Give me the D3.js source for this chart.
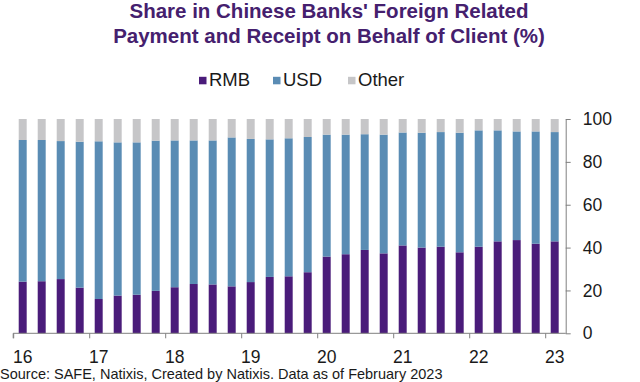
<!DOCTYPE html>
<html>
<head>
<meta charset="utf-8">
<script src="https://cdn.jsdelivr.net/npm/d3@7"></script>
<style>
  html, body { margin: 0; padding: 0; background: #ffffff; }
  svg { display: block; font-family: "Liberation Sans", Arial, sans-serif; }
</style>
</head>
<body>
<svg id="chart" width="640" height="382"></svg>
<script>
// ---- data ----
const quarters = [
  "2016Q1","2016Q2","2016Q3","2016Q4",
  "2017Q1","2017Q2","2017Q3","2017Q4",
  "2018Q1","2018Q2","2018Q3","2018Q4",
  "2019Q1","2019Q2","2019Q3","2019Q4",
  "2020Q1","2020Q2","2020Q3","2020Q4",
  "2021Q1","2021Q2","2021Q3","2021Q4",
  "2022Q1","2022Q2","2022Q3","2022Q4",
  "2023Q1"
];
const rmb = [24.1,24.3,25.3,21.3,16.0,17.6,18.0,19.8,21.5,23.0,22.8,21.9,23.9,26.3,26.6,28.5,35.8,36.9,38.9,37.3,41.0,40.0,40.4,37.8,40.4,42.9,43.5,41.8,42.9];
const usd = [66.1,65.9,64.4,68.1,73.6,71.5,71.1,70.1,68.5,67.0,67.2,69.5,66.8,64.2,64.4,63.1,56.9,55.8,54.0,55.4,52.7,53.6,53.5,55.8,54.3,51.8,50.7,52.4,51.0];
const other = [9.8,9.8,10.3,10.6,10.4,10.9,10.9,10.1,10.0,10.0,10.0,8.6,9.3,9.5,9.0,8.4,7.3,7.3,7.1,7.3,6.3,6.4,6.1,6.4,5.3,5.3,5.8,5.8,6.1];
const seriesNames = ["RMB","USD","Other"];
const yTicks = [0,20,40,60,80,100];
const yearLabels = ["16","17","18","19","20","21","22","23"];
const titleLines = ["Share in Chinese Banks' Foreign Related", "Payment and Receipt on Behalf of Client (%)"];
const sourceText = "Source: SAFE, Natixis, Created by Natixis. Data as of February 2023";

// ---- styles ----
const colors = { RMB: "#4a1c7a", USD: "#5a8cb4", Other: "#c6c6c8" };
const axisColor = "#808080";
const textColor = "#1a1a1a";
const titleColor = "#45206e";

const svg = d3.select("#chart");

const rows = quarters.map((q, i) => ({ q, RMB: rmb[i], USD: usd[i], Other: other[i] }));
const stacked = d3.stack().keys(seriesNames)(rows);

const plotLeft = 13.2, plotRight = 565.7, plotTop = 119, plotBottom = 333.3;
const x = d3.scaleBand().domain(quarters).range([plotLeft, plotLeft + 19 * quarters.length])
  .paddingInner(0.58).paddingOuter(0.29);
const y = d3.scaleLinear().domain([0, 100]).range([plotBottom, plotTop]);
const xIdx = d3.scaleLinear().domain([0, quarters.length]).range([plotLeft, plotLeft + 19 * quarters.length]);

// bars
svg.append("g").selectAll("g").data(stacked).join("g")
  .attr("fill", d => colors[d.key])
  .selectAll("rect").data(d => d).join("rect")
  .attr("x", d => x(d.data.q))
  .attr("width", x.bandwidth())
  .attr("y", d => y(d[1]))
  .attr("height", d => y(d[0]) - y(d[1]));

// x axis: boundary ticks
const xAxis = svg.append("g").attr("transform", `translate(0,${plotBottom})`)
  .call(d3.axisBottom(xIdx).tickValues(d3.range(0, quarters.length, 4)).tickSize(5).tickFormat(""));
xAxis.select(".domain").attr("stroke", axisColor).attr("d", `M${plotLeft},5V0H${plotRight}`);
xAxis.selectAll(".tick line").attr("stroke", axisColor);

// year labels centered on Q1 bars
const q1 = quarters.filter(q => q.endsWith("Q1"));
const xLab = svg.append("g").attr("transform", `translate(0,${plotBottom})`)
  .call(d3.axisBottom(x).tickValues(q1).tickSize(0).tickPadding(17)
    .tickFormat((d, i) => yearLabels[i]));
xLab.select(".domain").remove();
xLab.selectAll("text").attr("font-size", 17.5).attr("fill", textColor)
  .attr("font-family", "Liberation Sans, Arial, sans-serif");

// y axis right
const yAxis = svg.append("g").attr("transform", `translate(${plotRight},0)`)
  .call(d3.axisRight(y).tickValues(yTicks).tickSize(5).tickPadding(12).tickSizeOuter(0));
yAxis.select(".domain").attr("stroke", axisColor);
yAxis.selectAll(".tick line").attr("stroke", axisColor);
yAxis.selectAll("text").attr("font-size", 17.5).attr("fill", textColor)
  .attr("font-family", "Liberation Sans, Arial, sans-serif");

// title
svg.append("g").selectAll("text").data(titleLines).join("text")
  .attr("x", 329).attr("y", (d, i) => 17.5 + i * 25)
  .attr("text-anchor", "middle")
  .attr("font-size", 20.5).attr("font-weight", "bold").attr("fill", titleColor)
  .text(d => d);

// legend
const legendPos = [{ sx: 199, tx: 209 }, { sx: 273, tx: 283 }, { sx: 348, tx: 358 }];
const leg = svg.append("g");
seriesNames.forEach((name, i) => {
  leg.append("rect").attr("x", legendPos[i].sx).attr("y", 76.8).attr("width", 7.5).attr("height", 7.5)
    .attr("fill", colors[name]);
  leg.append("text").attr("x", legendPos[i].tx).attr("y", 85.5)
    .attr("font-size", 18.5).attr("fill", textColor).text(name);
});

// source note at the bottom
svg.append("text").attr("x", 0).attr("y", 379)
  .attr("font-size", 14.5).attr("fill", textColor).text(sourceText);
</script>
</body>
</html>
